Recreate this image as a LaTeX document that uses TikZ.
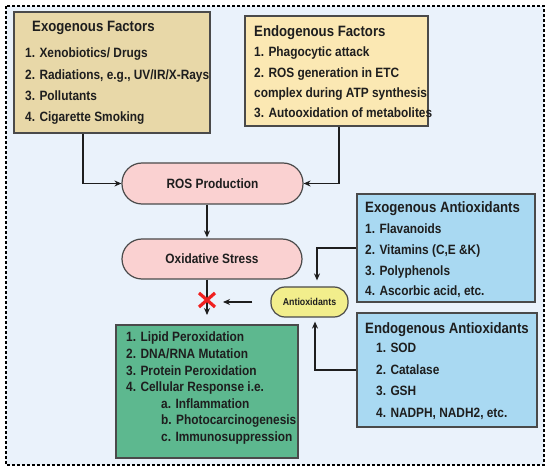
\documentclass[tikz,border=0pt]{standalone}
\usepackage{fontspec}
\setmainfont{Liberation Sans}[FakeStretch=0.88]
\usetikzlibrary{arrows.meta}
\definecolor{bgc}{HTML}{EAF2FB}
\definecolor{exoc}{HTML}{E8D8A8}
\definecolor{endoc}{HTML}{FBE8B3}
\definecolor{pinkc}{HTML}{FAD1D1}
\definecolor{antic}{HTML}{F2EE8C}
\definecolor{bluec}{HTML}{A9D9F2}
\definecolor{greenc}{HTML}{5DB88F}
\definecolor{linec}{HTML}{4A4A4A}
\definecolor{txtc}{HTML}{1E1E1E}
\definecolor{xred}{HTML}{F02020}
\tikzset{
  panel/.style={draw=linec, line width=1.3pt, inner sep=0pt},
  pill/.style={draw=linec, line width=1.2pt, inner sep=0pt, fill=pinkc, rounded corners=20pt,
    text=txtc, font=\fontsize{13.5}{16}\selectfont\bfseries},
  item/.style={anchor=base west, inner sep=0pt, text=txtc, font=\fontsize{13.5}{16}\selectfont\bfseries},
  ttl/.style={anchor=base west, inner sep=0pt, text=txtc, font=\fontsize{15}{18}\selectfont\bfseries},
  arr/.style={draw=txtc, line width=1.2pt, -{Stealth[length=7pt,width=6pt]}},
  conn/.style={draw=txtc, line width=1.2pt}
}
\begin{document}
\begin{tikzpicture}[x=1pt,y=-1pt]
\useasboundingbox (0,0) rectangle (550,473);
\fill[white] (0,0) rectangle (550,473);
% background frame
\draw[fill=bgc, draw=black, line width=1.4pt, dash pattern=on 3pt off 2pt] (6,6) rectangle (544,465);

% Exogenous Factors
\node[panel, fill=exoc, minimum width=196pt, minimum height=121pt] (exobox) at (112,72.5) {};
\node[ttl] (exot) at (32,31.4) {Exogenous Factors};
\node[item] (exo1) at (25,57.8) {1. Xenobiotics/ Drugs};
\node[item] (exo2) at (25,79.1) {2. Radiations, e.g., UV/IR/X-Rays};
\node[item] (exo3) at (25,100.5) {3. Pollutants};
\node[item] (exo4) at (25,121.8) {4. Cigarette Smoking};

% Endogenous Factors
\node[panel, fill=endoc, minimum width=183pt, minimum height=110pt] (endobox) at (336.5,71) {};
\node[ttl] (endot) at (254,36.4) {Endogenous Factors};
\node[item] (endo1) at (254,56.8) {1. Phagocytic attack};
\node[item] (endo2) at (254,77.2) {2. ROS generation in ETC};
\node[item] (endo3) at (254,97.6) {complex during ATP synthesis};
\node[item] (endo4) at (254,118) {3. Autooxidation of metabolites};

% ROS production and oxidative stress
\node[pill, minimum width=181pt, minimum height=41pt] (ros) at (212.5,183.5) {ROS Production};
\node[pill, minimum width=180pt, minimum height=40pt] (ox) at (212,259) {Oxidative Stress};

% Antioxidants
\node[draw=linec, line width=1.2pt, inner sep=0pt, fill=antic, rounded corners=14pt,
  minimum width=77pt, minimum height=30pt, text=txtc,
  font=\fontsize{10}{12}\selectfont\bfseries] (anti) at (309.5,302) {Antioxidants};

% Exogenous Antioxidants
\node[panel, fill=bluec, minimum width=178pt, minimum height=108pt] (exoa) at (446,248) {};
\node[ttl] (exoat) at (365,212.4) {Exogenous Antioxidants};
\node[item] (exoa1) at (365,233.8) {1. Flavanoids};
\node[item] (exoa2) at (365,254.8) {2. Vitamins (C,E \&K)};
\node[item] (exoa3) at (365,275.3) {3. Polyphenols};
\node[item] (exoa4) at (365,295.8) {4. Ascorbic acid, etc.};

% Endogenous Antioxidants
\node[panel, fill=bluec, minimum width=180pt, minimum height=114pt] (endoa) at (447,370) {};
\node[ttl] (endoat) at (365,333.4) {Endogenous Antioxidants};
\node[item] (endoa1) at (376,352.8) {1. SOD};
\node[item] (endoa2) at (376,374.5) {2. Catalase};
\node[item] (endoa3) at (376,396) {3. GSH};
\node[item] (endoa4) at (376,417.5) {4. NADPH, NADH2, etc.};

% Consequences
\node[panel, fill=greenc, minimum width=182pt, minimum height=133pt] (green) at (207,391.5) {};
\node[item] (g1) at (126,341.8) {1. Lipid Peroxidation};
\node[item] (g2) at (126,358.5) {2. DNA/RNA Mutation};
\node[item] (g3) at (126,375.1) {3. Protein Peroxidation};
\node[item] (g4) at (126,391.8) {4. Cellular Response i.e.};
\node[item] (g5) at (161,408.1) {a. Inflammation};
\node[item] (g6) at (161,424.8) {b. Photocarcinogenesis};
\node[item] (g7) at (161,441.5) {c. Immunosuppression};

% connectors
\draw[arr] ([xshift=-29pt]exobox.south) |- (ros.west);
\draw[arr] ([xshift=2.5pt]endobox.south) |- (ros.east);
\draw[arr, shorten >=1pt] ([xshift=-5.5pt]ros.south) -- ([xshift=-5pt]ox.north);
\coordinate (xmark) at (207,300);
\coordinate (tip) at (207,315);
\draw[arr] ([xshift=-5pt]ox.south) -- (tip);
\draw[arr, shorten <=18pt, shorten >=16pt] (anti.west) -- (anti.west -| xmark);
\draw[arr, shorten >=6pt] (exoa.west) -| ([xshift=7.5pt]anti.north);
\draw[arr, shorten >=4pt] (endoa.west) -| ([xshift=5.5pt]anti.south);
% red cross
\draw[xred, line width=3.2pt] ([shift={(-8pt,-7pt)}]xmark) -- ([shift={(8pt,7pt)}]xmark);
\draw[xred, line width=3.2pt] ([shift={(-8pt,7pt)}]xmark) -- ([shift={(8pt,-7pt)}]xmark);
\end{tikzpicture}
\end{document}
